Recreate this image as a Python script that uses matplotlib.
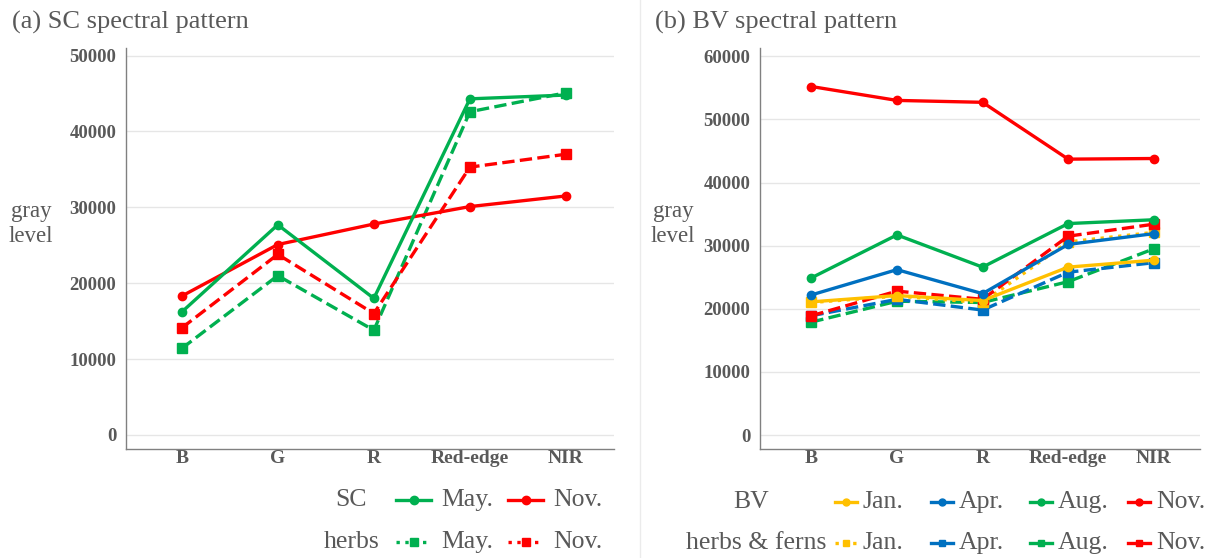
import numpy as np
import matplotlib.pyplot as plt
from matplotlib.lines import Line2D

plt.rcParams['font.family'] = ['Liberation Serif', 'DejaVu Serif']

bands = ['B', 'G', 'R', 'Red-edge', 'NIR']

# (a) SC
sc_may = [16200, 27700, 18000, 44300, 44800]
sc_nov = [18300, 25100, 27800, 30100, 31500]
herbs_may = [11400, 21000, 13800, 42600, 45100]
herbs_nov = [14100, 23800, 16000, 35300, 37000]

# (b) BV
bv_jan = [21100, 22100, 21300, 26600, 27700]
bv_apr = [22200, 26200, 22400, 30200, 31900]
bv_aug = [24900, 31700, 26600, 33500, 34100]
bv_nov = [55200, 53000, 52700, 43700, 43800]
hf_jan = [21000, 22000, 21000, 30600, 32100]
hf_apr = [18900, 21500, 19800, 25800, 27300]
hf_aug = [17900, 21200, 21000, 24300, 29500]
hf_nov = [18900, 22800, 21500, 31500, 33400]

GREEN = '#00B050'
RED = '#FF0000'
BLUE = '#0070C0'
YELLOW = '#FFC000'
GRAY = '#595959'

fig = plt.figure(figsize=(12.14, 5.58), dpi=100)
W, H = 1214.0, 558.0


def fx(px):
    return px / W


def fy(py):
    return 1 - py / H


def style_axes(ax, ymax, ylim):
    x = np.arange(len(bands))
    ax.set_xticks(x)
    ax.set_xticklabels(bands, fontsize=14, fontweight='bold', color=GRAY)
    ax.set_yticks(np.arange(0, ymax + 1, 10000))
    ax.set_yticklabels([str(v) for v in range(0, ymax + 1, 10000)],
                       fontsize=13.5, fontweight='bold', color=GRAY)
    ax.set_ylim(*ylim)
    ax.grid(axis='y', color='#E6E6E6', linewidth=1)
    ax.set_axisbelow(True)
    for s in ['top', 'right']:
        ax.spines[s].set_visible(False)
    for s in ['left', 'bottom']:
        ax.spines[s].set_color('#808080')
        ax.spines[s].set_linewidth(1)
    ax.tick_params(axis='y', length=0, pad=7)
    ax.tick_params(axis='x', length=0, pad=1)


lw = 2.4
x = np.arange(len(bands))

# left panel
ax1 = fig.add_axes([fx(126), fy(449), fx(614 - 126), (449 - 48) / H])
ax1.plot(x, herbs_may, color=GREEN, lw=lw, ls='--', marker='s', ms=6.5)
ax1.plot(x, herbs_nov, color=RED, lw=lw, ls='--', marker='s', ms=6.5)
ax1.plot(x, sc_nov, color=RED, lw=lw, marker='o', ms=6)
ax1.plot(x, sc_may, color=GREEN, lw=lw, marker='o', ms=6)
ax1.set_xlim(-0.58, 4.5)
style_axes(ax1, 50000, (-1850, 51000))

# right panel
ax2 = fig.add_axes([fx(760), fy(449), fx(1200 - 760), (449 - 48) / H])
ax2.plot(x, hf_aug, color=GREEN, lw=lw, ls='--', marker='s', ms=6.5)
ax2.plot(x, hf_apr, color=BLUE, lw=lw, ls='--', marker='s', ms=6.5)
ax2.plot(x, hf_jan, color=YELLOW, lw=lw, ls=':', marker='s', ms=6.5)
ax2.plot(x, hf_nov, color=RED, lw=lw, ls='--', marker='s', ms=6.5)
ax2.plot(x, bv_jan, color=YELLOW, lw=lw, marker='o', ms=6)
ax2.plot(x, bv_apr, color=BLUE, lw=lw, marker='o', ms=6)
ax2.plot(x, bv_aug, color=GREEN, lw=lw, marker='o', ms=6)
ax2.plot(x, bv_nov, color=RED, lw=lw, marker='o', ms=6)
ax2.set_xlim(-0.6, 4.54)
style_axes(ax2, 60000, (-2200, 61300))

# titles and axis labels
fig.text(fx(12), fy(22), '(a) SC spectral pattern', fontsize=19, color=GRAY, va='center')
fig.text(fx(655), fy(22), '(b) BV spectral pattern', fontsize=19, color=GRAY, va='center')
fig.text(fx(31), fy(224), 'gray\nlevel', fontsize=16.5, color=GRAY, ha='center', va='center',
         linespacing=1.3)
fig.text(fx(673), fy(224), 'gray\nlevel', fontsize=16.5, color=GRAY, ha='center', va='center',
         linespacing=1.3)

# panel separator
fig.add_artist(Line2D([fx(640), fx(640)], [0, 1], color='#EBEBEB', lw=1))


def key(x0, x1, y, color, ls, marker, ms):
    fig.add_artist(Line2D([fx(x0), fx(x1)], [fy(y), fy(y)], color=color, lw=lw, ls=ls))
    fig.add_artist(Line2D([fx((x0 + x1) / 2)], [fy(y)], color=color, marker=marker, ms=ms))


# left legend
leg_fs = 18.5
fig.text(fx(351), fy(500), 'SC', fontsize=leg_fs, color=GRAY, ha='center', va='center')
fig.text(fx(352), fy(542), 'herbs', fontsize=leg_fs, color=GRAY, ha='center', va='center')
key(396, 431, 500, GREEN, '-', 'o', 6)
key(508, 543, 500, RED, '-', 'o', 6)
key(396, 431, 542, GREEN, ':', 's', 6)
key(508, 543, 542, RED, ':', 's', 6)
for xx, lab in [(441, 'May.'), (553, 'Nov.')]:
    fig.text(fx(xx), fy(500), lab, fontsize=leg_fs, color=GRAY, va='center')
    fig.text(fx(xx), fy(542), lab, fontsize=leg_fs, color=GRAY, va='center')

# right legend
fig.text(fx(751), fy(502), 'BV', fontsize=leg_fs, color=GRAY, ha='center', va='center')
fig.text(fx(756), fy(543), 'herbs & ferns', fontsize=leg_fs, color=GRAY, ha='center', va='center')
months = ['Jan.', 'Apr.', 'Aug.', 'Nov.']
colors = [YELLOW, BLUE, GREEN, RED]
hx = [835, 931, 1030, 1128]
for m, c, h in zip(months, colors, hx):
    key(h, h + 22, 502, c, '-', 'o', 5)
    key(h, h + 22, 543, c, ':' if m == 'Jan.' else '-', 's', 5)
    fig.text(fx(h + 28), fy(502), m, fontsize=leg_fs, color=GRAY, va='center')
    fig.text(fx(h + 28), fy(543), m, fontsize=leg_fs, color=GRAY, va='center')

fig.savefig('out.png', dpi=100)
